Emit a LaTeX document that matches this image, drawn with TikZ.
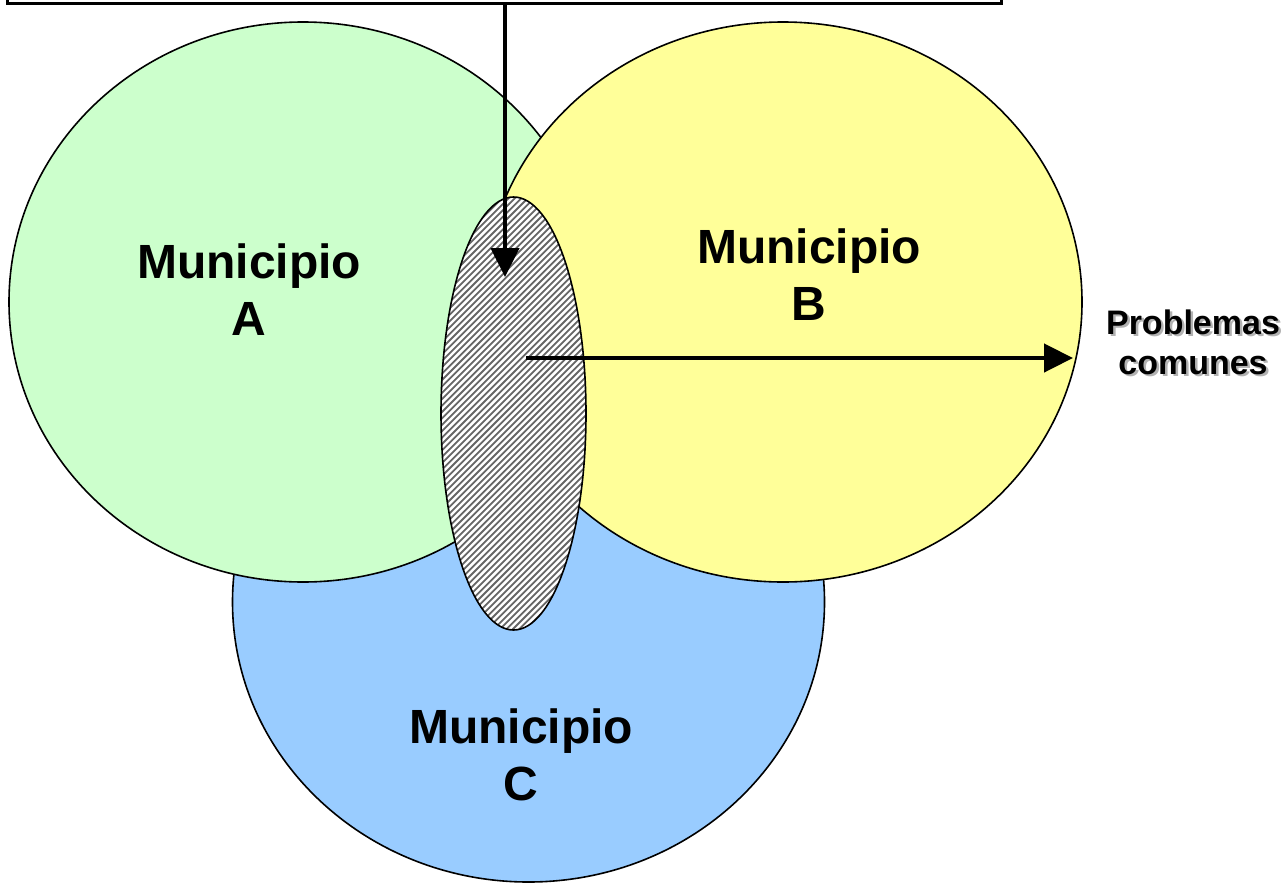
\documentclass[tikz,border=0pt]{standalone}
\usepackage{fontspec}
\setmainfont{Liberation Sans}
\usetikzlibrary{arrows.meta,shapes.geometric}
\definecolor{cgreen}{HTML}{CCFFCC}
\definecolor{cyellow}{HTML}{FFFF99}
\definecolor{cblue}{HTML}{99CCFF}
\tikzset{
  muni/.style={ellipse, draw=black, line width=1.6pt, inner sep=0pt},
  lbl/.style={font=\fontsize{48}{57}\selectfont\bfseries, align=center, inner sep=0pt},
  side/.style={font=\fontsize{34}{40}\selectfont\bfseries, align=center, inner sep=0pt},
  bigarrow/.style={line width=4.5pt, -{Triangle[length=29pt,width=28pt]}},
}
\begin{document}
\begin{tikzpicture}[x=1pt,y=-1pt]
\useasboundingbox (0,0) rectangle (1284,883);
\clip (0,0) rectangle (1284,883);
% top box (extends above the picture)
\node[draw, line width=3pt, minimum width=994pt, minimum height=80pt, anchor=south west, inner sep=0pt] (box) at (6,5) {};
% circles
\node[muni, fill=cblue, minimum width=592pt, minimum height=560pt] (C) at (528.5,602) {};
\node[muni, fill=cgreen, minimum width=588pt, minimum height=560pt] (A) at (303,302) {};
\node[muni, fill=cyellow, minimum width=598pt, minimum height=560pt] (B) at (783,302) {};
% hatched ellipse
\node[ellipse, fill=white, minimum width=145pt, minimum height=433pt, inner sep=0pt] (H) at (513.5,413.5) {};
\begin{scope}
  \clip (513.5,413.5) ellipse [x radius=72.5, y radius=216.5];
  \foreach \c in {630,636.4,...,1225} {
    \draw[black!60, line width=1.8pt] (\c-190,190) -- (\c-640,640);
  }
\end{scope}
\draw[line width=1.6pt] (513.5,413.5) ellipse [x radius=72.5, y radius=216.5];
% labels
\node[lbl] (lA) at (249,290) {Municipio\\A};
\node[lbl] (lB) at (809,275) {Municipio\\B};
\node[lbl] (lC) at (521,755) {Municipio\\C};
\node[side, text=black!30] (lPs) at (1195.5,344.5) {Problemas\\comunes};
\node[side] (lP) at (1193,342) {Problemas\\comunes};
% arrows
\coordinate (vtop) at (505,5);
\coordinate (vtip) at (505,277);
\coordinate (hstart) at (526,358);
\coordinate (htip) at (1073,358);
\draw[bigarrow] (vtop) -- (vtip);
\draw[bigarrow] (hstart) -- (htip);
\end{tikzpicture}
\end{document}
